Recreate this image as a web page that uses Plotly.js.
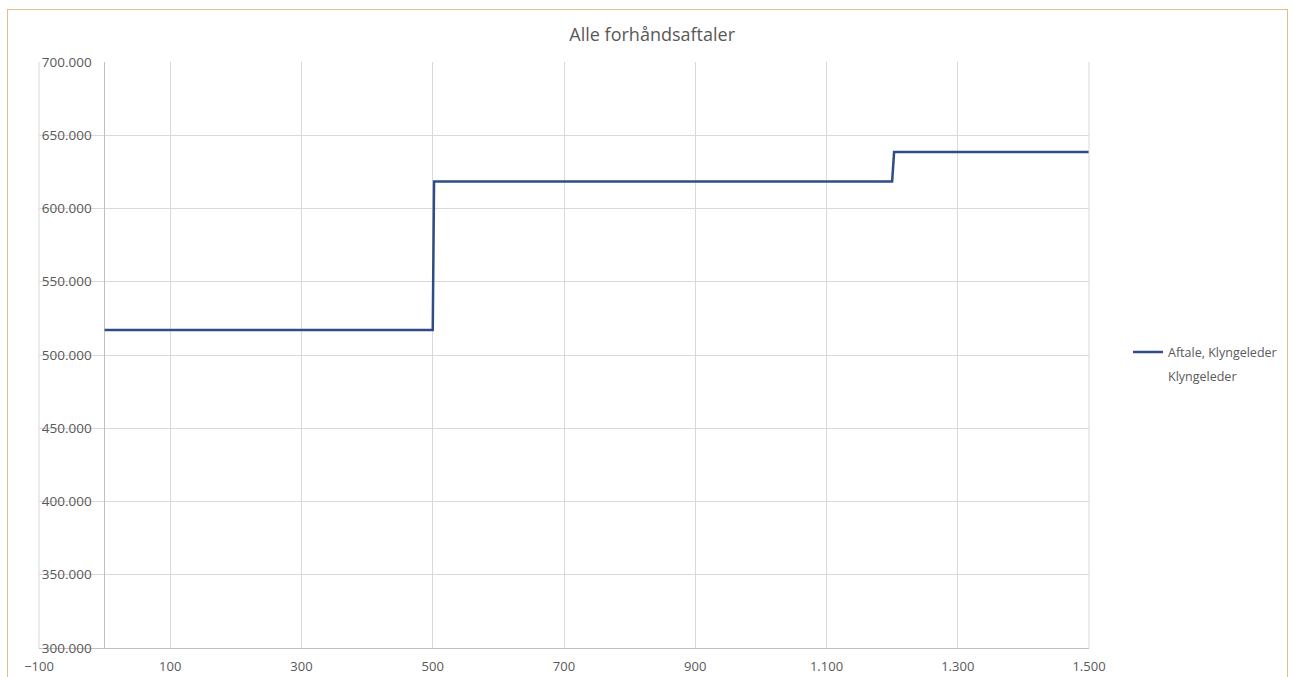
<!DOCTYPE html>
<html>
<head>
<meta charset="utf-8">
<script src="https://cdn.plot.ly/plotly-3.0.1.min.js"></script>
<style>
  html, body { margin: 0; padding: 0; background: #ffffff; }
  #frame { position: absolute; left: 7px; top: 9px; width: 1281px; height: 700px; border: 1px solid #e2bd92; box-sizing: border-box; }
  #chart { position: absolute; left: 0; top: 0; width: 1294px; height: 677px; }
</style>
</head>
<body>
<div id="frame"></div>
<div id="chart"></div>
<script>
// Data
const seriesName = "Aftale, Klyngeleder";
const seriesX = [0, 500, 502, 1200, 1203, 1500];
const seriesY = [517000, 517000, 618500, 618500, 638500, 638500];
const emptyName = "Klyngeleder";
const titleText = "Alle forhåndsaftaler";

const gray = "#595959";
const font = "Open Sans, Liberation Sans, sans-serif";

const traces = [
  {
    x: seriesX, y: seriesY, name: seriesName, type: "scatter", mode: "lines",
    line: { color: "#2e4d87", width: 2.5 }, legendgroup: "a"
  },
  {
    x: [0], y: [null], name: emptyName, type: "scatter", mode: "lines",
    line: { color: "rgba(0,0,0,0)", width: 0 }, legendgroup: "b"
  }
];

const layout = {
  width: 1294, height: 677,
  paper_bgcolor: "rgba(0,0,0,0)", plot_bgcolor: "rgba(0,0,0,0)",
  margin: { l: 39, r: 205, t: 62, b: 29, autoexpand: false },
  separators: ",.",
  font: { family: font, color: gray, size: 13 },
  title: {
    text: titleText, font: { family: font, size: 18, color: gray },
    x: 0.504, xref: "container", xanchor: "center",
    y: 1 - 35 / 677, yref: "container", yanchor: "middle"
  },
  xaxis: {
    range: [-100, 1500], tick0: -100, dtick: 200, tickformat: ",d",
    showgrid: true, gridcolor: "#d9d9d9", gridwidth: 1,
    zeroline: true, zerolinecolor: "#c0c0c0", zerolinewidth: 1,
    showline: true, linecolor: "#c0c0c0", linewidth: 1,
    ticks: "", ticklabelstandoff: 6, tickfont: { size: 13, color: gray },
    fixedrange: true
  },
  yaxis: {
    range: [300000, 700000], dtick: 50000, tickformat: ",.3~f",
    anchor: "free", position: 100 / 1600, side: "left",
    showgrid: true, gridcolor: "#d9d9d9", gridwidth: 1,
    zeroline: false, showline: false,
    ticks: "", ticklabelstandoff: 13, tickfont: { size: 13.5, color: gray },
    fixedrange: true
  },
  shapes: [
    { type: "line", xref: "paper", yref: "paper", x0: 0, x1: 0, y0: 0, y1: 1, line: { color: "#d9d9d9", width: 1 } },
    { type: "line", xref: "paper", yref: "paper", x0: 1, x1: 1, y0: 0, y1: 1, line: { color: "#d9d9d9", width: 1 } }
  ],
  showlegend: true,
  legend: {
    x: (1128 - 39) / 1050, xanchor: "left", y: 0.53, yanchor: "top",
    font: { size: 12.5, color: gray }, tracegroupgap: 5,
    bgcolor: "rgba(0,0,0,0)"
  }
};

Plotly.newPlot("chart", traces, layout, { displayModeBar: false, staticPlot: true });
</script>
</body>
</html>
